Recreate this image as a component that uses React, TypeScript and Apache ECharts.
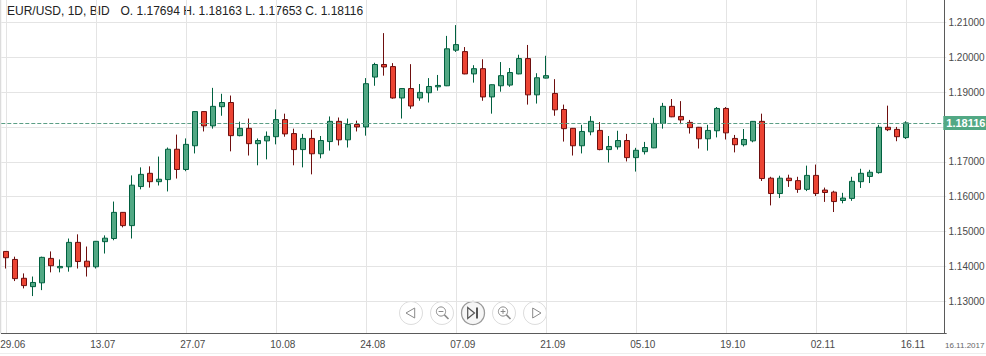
import React, { useEffect, useRef } from "react";
import * as echarts from "echarts";

const dates = [
  "29.06","30.06",
  "03.07","04.07","05.07","06.07","07.07","10.07","11.07","12.07","13.07","14.07",
  "17.07","18.07","19.07","20.07","21.07","24.07","25.07","26.07","27.07","28.07",
  "31.07","01.08","02.08","03.08","04.08","07.08","08.08","09.08","10.08","11.08",
  "14.08","15.08","16.08","17.08","18.08","21.08","22.08","23.08","24.08","25.08",
  "28.08","29.08","30.08","31.08","01.09","04.09","05.09","06.09","07.09","08.09",
  "11.09","12.09","13.09","14.09","15.09","18.09","19.09","20.09","21.09","22.09",
  "25.09","26.09","27.09","28.09","29.09","02.10","03.10","04.10","05.10","06.10",
  "09.10","10.10","11.10","12.10","13.10","16.10","17.10","18.10","19.10","20.10",
  "23.10","24.10","25.10","26.10","27.10","30.10","31.10","01.11","02.11","03.11",
  "06.11","07.11","08.11","09.11","10.11","13.11","14.11","15.11","16.11",
  "","","","",
];

const priceTicks = [1.13, 1.14, 1.15, 1.16, 1.17, 1.18, 1.19, 1.2, 1.21];
// 1.18000 lies under the current-price tag, so it has no visible label
const priceLabels = [1.13, 1.14, 1.15, 1.16, 1.17, 1.19, 1.2, 1.21];

// open, close, low, high
const candles = [
  [1.1443,1.1425,1.1394,1.1444],[1.1420,1.1365,1.1358,1.1428],[1.1366,1.1345,1.1337,1.1380],[1.1342,1.1354,1.1315,1.1371],
  [1.1353,1.1426,1.1332,1.1428],[1.1423,1.1402,1.1383,1.1443],[1.1396,1.1400,1.1383,1.1420],[1.1399,1.1469,1.1385,1.1480],
  [1.1469,1.1414,1.1394,1.1492],[1.1415,1.1399,1.1371,1.1457],[1.1399,1.1472,1.1394,1.1473],[1.1471,1.1481,1.1437,1.1489],
  [1.1480,1.1555,1.1475,1.1586],[1.1555,1.1517,1.1512,1.1556],[1.1517,1.1633,1.1480,1.1661],[1.1629,1.1664,1.1621,1.1684],
  [1.1667,1.1643,1.1626,1.1687],[1.1643,1.1650,1.1632,1.1715],[1.1649,1.1736,1.1615,1.1741],[1.1736,1.1678,1.1652,1.1778],
  [1.1678,1.1750,1.1673,1.1767],[1.1746,1.1844,1.1724,1.1845],[1.1844,1.1803,1.1787,1.1845],[1.1803,1.1859,1.1795,1.1912],
  [1.1858,1.1870,1.1832,1.1895],[1.1870,1.1775,1.1730,1.1890],[1.1775,1.1796,1.1773,1.1815],[1.1796,1.1752,1.1718,1.1824],
  [1.1752,1.1761,1.1690,1.1767],[1.1760,1.1773,1.1707,1.1787],[1.1772,1.1821,1.1750,1.1850],[1.1821,1.1780,1.1772,1.1838],
  [1.1781,1.1735,1.1690,1.1795],[1.1735,1.1767,1.1684,1.1780],[1.1767,1.1723,1.1664,1.1792],[1.1723,1.1761,1.1710,1.1774],
  [1.1758,1.1816,1.1732,1.1830],[1.1816,1.1763,1.1747,1.1827],[1.1763,1.1807,1.1741,1.1824],[1.1807,1.1800,1.1787,1.1818],
  [1.1800,1.1924,1.1775,1.1940],[1.1943,1.1979,1.1918,1.1984],[1.1979,1.1972,1.1947,1.2069],[1.1973,1.1883,1.1881,1.1983],
  [1.1883,1.1910,1.1824,1.1911],[1.1910,1.1860,1.1852,1.1980],[1.1883,1.1899,1.1875,1.1923],[1.1898,1.1916,1.1870,1.1940],
  [1.1915,1.1919,1.1904,1.1949],[1.1918,1.2024,1.1917,1.2061],[1.2020,1.2036,1.2015,1.2092],[1.2016,1.1952,1.1951,1.2029],
  [1.1952,1.1967,1.1927,1.1977],[1.1967,1.1886,1.1875,1.1994],[1.1886,1.1921,1.1838,1.1922],[1.1918,1.1947,1.1901,1.1986],
  [1.1920,1.1956,1.1915,1.1969],[1.1952,1.1996,1.1951,1.2007],[1.1996,1.1892,1.1864,1.2035],[1.1892,1.1941,1.1867,1.1954],
  [1.1940,1.1947,1.1939,1.2004],[1.1896,1.1849,1.1832,1.1937],[1.1850,1.1795,1.1758,1.1864],[1.1796,1.1746,1.1718,1.1797],
  [1.1746,1.1787,1.1724,1.1806],[1.1786,1.1816,1.1776,1.1831],[1.1790,1.1735,1.1733,1.1814],[1.1735,1.1744,1.1698,1.1774],
  [1.1743,1.1761,1.1735,1.1789],[1.1761,1.1712,1.1701,1.1780],[1.1712,1.1733,1.1672,1.1740],[1.1729,1.1741,1.1721,1.1757],
  [1.1740,1.1810,1.1739,1.1826],[1.1810,1.1859,1.1795,1.1869],[1.1859,1.1829,1.1828,1.1880],[1.1830,1.1820,1.1808,1.1874],
  [1.1813,1.1798,1.1781,1.1820],[1.1799,1.1766,1.1738,1.1800],[1.1766,1.1790,1.1732,1.1806],[1.1789,1.1853,1.1770,1.1857],
  [1.1853,1.1783,1.1764,1.1857],[1.1767,1.1749,1.1727,1.1777],[1.1749,1.1764,1.1744,1.1794],[1.1760,1.1816,1.1756,1.1817],
  [1.1816,1.1652,1.1645,1.1838],[1.1653,1.1609,1.1575,1.1657],[1.1609,1.1653,1.1596,1.1660],[1.1653,1.1646,1.1628,1.1663],
  [1.1646,1.1621,1.1611,1.1657],[1.1621,1.1661,1.1616,1.1689],[1.1661,1.1609,1.1602,1.1692],[1.1619,1.1612,1.1585,1.1626],
  [1.1613,1.1586,1.1556,1.1617],[1.1589,1.1596,1.1581,1.1611],[1.1595,1.1644,1.1588,1.1657],[1.1643,1.1667,1.1625,1.1680],
  [1.1658,1.1670,1.1639,1.1677],[1.1669,1.1799,1.1666,1.1806],[1.1799,1.1792,1.1788,1.1861],[1.1793,1.1772,1.1759,1.1800],
  [1.17694,1.18116,1.17653,1.18163],
];

const lastClose = 1.18116;
const headerLeft = "EUR/USD, 1D, BID";
const headerRight = "O. 1.17694 H. 1.18163 L. 1.17653 C. 1.18116";
const fullDate = "16.11.2017";

const UP_FILL = "#52a884";
const UP_EDGE = "#00603f";
const DOWN_FILL = "#ec4433";
const DOWN_EDGE = "#6e0e0e";
const GRID = "#e4e4e4";
const AXIS = "#5a5a5a";
const TEXT = "#4a4a4a";
const FONT = '"Liberation Sans", Arial, sans-serif';

const btn = (cx: number, active = false) => ({
  type: "circle",
  shape: { cx, cy: 313, r: 11.5 },
  style: { fill: active ? "#f6f6f6" : "#ffffff", stroke: active ? "#9a9a9a" : "#dddddd", lineWidth: active ? 1.3 : 1 },
  silent: true,
});
const iconStroke = { fill: "none", stroke: "#8a8a8a", lineWidth: 1 };
const darkStroke = { fill: "none", stroke: "#555555", lineWidth: 1.2 };
const poly = (pts: number[][], style: object) => ({ type: "polygon", shape: { points: pts }, style, silent: true });
const seg = (x1: number, y1: number, x2: number, y2: number, style: object) => ({
  type: "line",
  shape: { x1, y1, x2, y2 },
  style,
  silent: true,
});
const lens = (cx: number, plus: boolean) => {
  const cy = 311.5;
  const items: any[] = [
    { type: "circle", shape: { cx, cy, r: 4.6 }, style: iconStroke, silent: true },
    seg(cx + 3.4, cy + 3.4, cx + 7.5, cy + 7.5, { stroke: "#8a8a8a", lineWidth: 1.6 }),
    seg(cx - 2.4, cy, cx + 2.4, cy, iconStroke),
  ];
  if (plus) items.push(seg(cx, cy - 2.4, cx, cy + 2.4, iconStroke));
  return items;
};

export default function App() {
  const ref = useRef<HTMLDivElement>(null);

  useEffect(() => {
    const chart = echarts.init(ref.current!, null, { renderer: "svg" });
    chart.setOption({
      animation: false,
      backgroundColor: "#ffffff",
      textStyle: { fontFamily: FONT },
      grid: { left: 1.3, top: 0, width: 945, height: 333, containLabel: false, outerBoundsMode: "none" },
      xAxis: {
        type: "category",
        data: dates,
        boundaryGap: true,
        axisLine: { show: true, onZero: false, lineStyle: { color: AXIS, width: 1 } },
        axisTick: { show: false },
        axisLabel: {
          color: TEXT,
          fontSize: 10,
          fontFamily: FONT,
          margin: 6,
          padding: [0, 0, 0, 14],
          hideOverlap: false,
          interval: (i: number) => i % 10 === 0 && i <= 100,
        },
        splitLine: {
          show: true,
          alignWithLabel: true,
          interval: (i: number) => i % 10 === 0,
          lineStyle: { color: GRID, width: 1 },
        },
      },
      yAxis: {
        type: "value",
        position: "right",
        offset: -1.8,
        scale: true,
        min: 1.12091,
        max: 1.216394,
        axisLine: { show: true, onZero: false, lineStyle: { color: AXIS, width: 1 } },
        axisTick: { show: false, customValues: priceTicks },
        axisLabel: {
          color: TEXT,
          fontSize: 10,
          fontFamily: FONT,
          margin: 4,
          customValues: priceLabels,
          formatter: (v: number) => v.toFixed(5),
        },
        splitLine: { show: true, lineStyle: { color: GRID, width: 1 } },
      },
      series: [
        {
          type: "candlestick",
          data: candles,
          barWidth: 6,
          itemStyle: {
            color: UP_FILL,
            color0: DOWN_FILL,
            borderColor: UP_EDGE,
            borderColor0: DOWN_EDGE,
            borderWidth: 1,
          },
          markLine: {
            silent: true,
            symbol: "none",
            precision: 5,
            data: [{ yAxis: lastClose }],
            lineStyle: { color: "#5b9e85", type: [4, 2], width: 1 },
            label: {
              position: "end",
              distance: -3,
              formatter: () => lastClose.toFixed(5),
              color: "#ffffff",
              fontFamily: FONT,
              fontSize: 11,
              lineHeight: 12,
              fontWeight: "bold",
              backgroundColor: UP_FILL,
              padding: [1, 3, 1, 3],
            },
          },
        },
      ],
      graphic: [
        seg(0.5, 0, 0.5, 333, { stroke: "#dcdcdc", lineWidth: 1.5 }),
        seg(0, 353.5, 986, 353.5, { stroke: "#eeeeee", lineWidth: 1 }),
        { type: "text", x: 7, y: 5, style: { text: headerLeft, fill: "#222222", font: `12px ${FONT}` }, silent: true },
        { type: "text", x: 120.5, y: 5, style: { text: headerRight, fill: "#222222", font: `12px ${FONT}` }, silent: true },
        { type: "text", x: 945, y: 341, style: { text: fullDate, fill: "#666666", font: `8px ${FONT}` }, silent: true },
        btn(411),
        btn(442),
        btn(473, true),
        btn(504),
        btn(535),
        poly([[406, 313], [414.7, 308], [414.7, 318]], iconStroke),
        poly([[541, 313], [532.7, 308], [532.7, 318]], iconStroke),
        ...lens(441, false),
        ...lens(503, true),
        poly([[467.7, 307.5], [474.5, 313], [467.7, 318.5]], darkStroke),
        seg(477, 307.5, 477, 318.5, { stroke: "#555555", lineWidth: 2 }),
      ],
    });
    return () => chart.dispose();
  }, []);

  return <div ref={ref} style={{ position: "absolute", left: 0, top: 0, width: 986, height: 356 }} />;
}
